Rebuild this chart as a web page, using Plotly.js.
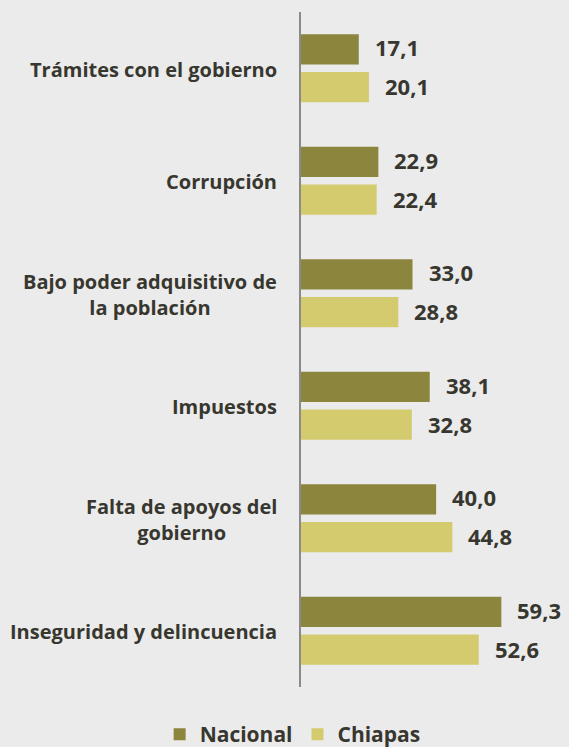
<!DOCTYPE html>
<html>
<head>
<meta charset="utf-8">
<script src="https://cdn.plot.ly/plotly-3.0.1.min.js"></script>
<style>
html,body{margin:0;padding:0;background:#ebebeb;}
#chart{width:569px;height:747px;}
</style>
</head>
<body>
<div id="chart"></div>
<script>
const categories = ["Trámites con el gobierno", "Corrupción", "Bajo poder adquisitivo de<br>la población", "Impuestos", "Falta de apoyos del<br>gobierno", "Inseguridad y delincuencia"];
const nacional = [17.1, 22.9, 33.0, 38.1, 40.0, 59.3];
const chiapas = [20.1, 22.4, 28.8, 32.8, 44.8, 52.6];
const seriesNames = ["Nacional", "Chiapas"];

const fmt = v => v.toFixed(1).replace('.', ',');
const textColor = '#38372f';
const fontFam = '"Open Sans", sans-serif';

const traces = [
  {type:'bar', orientation:'h', name:seriesNames[0], y:categories, x:nacional,
   marker:{color:'#8b853e'}, hoverinfo:'none'},
  {type:'bar', orientation:'h', name:seriesNames[1], y:categories, x:chiapas,
   marker:{color:'#d3cb6e'}, hoverinfo:'none'}
];

const annotations = [];
categories.forEach((c, i) => {
  annotations.push({xref:'paper', yref:'y', x:0, y:c, text:c, showarrow:false,
    xanchor:'right', xshift:-22, yshift:-1, align:'center',
    font:{family:fontFam, size:20, color:textColor, weight:'bold'}});
  annotations.push({xref:'x', yref:'y', x:nacional[i], y:c, text:fmt(nacional[i]), showarrow:false,
    xanchor:'left', xshift:14, yshift:21,
    font:{family:fontFam, size:22, color:textColor, weight:'bold'}});
  annotations.push({xref:'x', yref:'y', x:chiapas[i], y:c, text:fmt(chiapas[i]), showarrow:false,
    xanchor:'left', xshift:14, yshift:-18,
    font:{family:fontFam, size:22, color:textColor, weight:'bold'}});
});

const layout = {
  width:569, height:747,
  paper_bgcolor:'#ebebeb', plot_bgcolor:'#ebebeb',
  margin:{l:301, r:20, t:12, b:60, autoexpand:false},
  barmode:'group', bargap:0.33, bargroupgap:0.2,
  xaxis:{range:[0, 73.4], showticklabels:false, showgrid:false, zeroline:false, showline:false, fixedrange:true},
  yaxis:{autorange:'reversed', showticklabels:false, showgrid:false, zeroline:false,
         showline:true, linecolor:'#8a8a8a', linewidth:2.5, ticks:'', fixedrange:true},
  showlegend:true,
  legend:{orientation:'h', xref:'paper', yref:'paper', x:-0.57, xanchor:'left',
          y:-0.04, yanchor:'top', traceorder:'normal',
          font:{family:fontFam, size:21, color:textColor, weight:'bold'},
          itemwidth:30, bgcolor:'rgba(0,0,0,0)'},
  annotations:annotations
};

Plotly.newPlot('chart', traces, layout, {staticPlot:true, displayModeBar:false});
</script>
</body>
</html>
